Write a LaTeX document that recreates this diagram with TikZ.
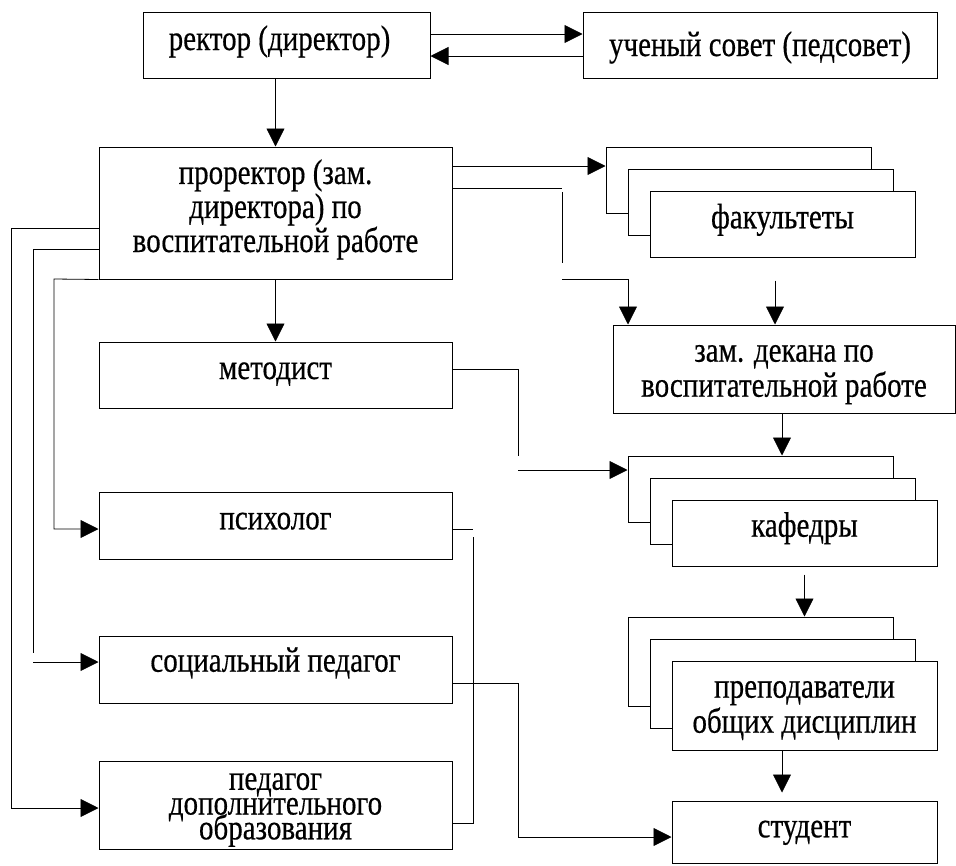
\documentclass[tikz,border=0pt]{standalone}
\usepackage{fontspec}
\usepackage{graphicx}
\setmainfont{Liberation Serif}[FakeBold=0.5]
\usetikzlibrary{arrows.meta,calc}
\newcommand{\vtxt}[2][28.7pt]{\scalebox{1}[1.22]{\vbox{\baselineskip=#1\lineskiplimit=-100pt\lineskip=0pt\halign{\hfil##\hfil\cr #2\crcr}}}}
\begin{document}
\begin{tikzpicture}[x=1pt,y=-1pt,
  box/.style={draw,line width=1pt,fill=white,inner sep=0pt,align=center,
    text depth=0pt,font=\fontsize{29}{28.7}\selectfont},
  conn/.style={line width=0.8pt},
  arr/.style={conn,-{Triangle[length=18pt,width=18pt]}}]
\useasboundingbox (0,0) rectangle (956,865);
% top row
\node[box,text height=10pt,minimum width=287pt,minimum height=66pt] (rektor) at (286.5,45) {\vtxt{ректор (директор)}\hspace*{14pt}};
\node[box,text height=22pt,minimum width=354pt,minimum height=66pt] (sovet) at (760,45) {\vtxt{ученый совет (педсовет)}};
% left column
\node[box,text height=78pt,minimum width=353pt,minimum height=132pt] (prorektor) at (275.5,213) {\vtxt[27.9pt]{проректор (зам.\cr директора) по\cr воспитательной работе}};
\node[box,text height=8pt,minimum width=353pt,minimum height=66pt] (metodist) at (275.5,375) {\vtxt{методист}};
\node[box,text height=7.6pt,minimum width=353pt,minimum height=67pt] (psiholog) at (275.5,525.5) {\vtxt{психолог}};
\node[box,text height=4.4pt,minimum width=353pt,minimum height=67pt] (socped) at (275.5,669.5) {\vtxt{социальный педагог}};
\node[box,text height=68.6pt,minimum width=353pt,minimum height=88pt] (peddop) at (275.5,805) {\vtxt[20.3pt]{педагог\cr дополнительного\cr образования}};
% right column
\node[box,minimum width=265pt,minimum height=66pt] (fak3) at (738.5,180) {};
\node[box,minimum width=265pt,minimum height=66pt] (fak2) at (760.5,202) {};
\node[box,text height=8.6pt,minimum width=265pt,minimum height=66pt] (fak) at (782.5,224) {\vtxt{факультеты}};
\node[box,text height=55.4pt,minimum width=342pt,minimum height=88pt] (zamdek) at (784,369) {\vtxt{зам. декана по\cr воспитательной работе}};
\node[box,minimum width=265pt,minimum height=66pt] (kaf3) at (760.5,489) {};
\node[box,minimum width=265pt,minimum height=66pt] (kaf2) at (782.5,511) {};
\node[box,text height=7.4pt,minimum width=265pt,minimum height=66pt] (kaf) at (804.5,533) {\vtxt{кафедры}};
\node[box,minimum width=265pt,minimum height=89pt] (prep3) at (760.5,661.5) {};
\node[box,minimum width=265pt,minimum height=89pt] (prep2) at (782.5,683.5) {};
\node[box,text height=54.4pt,minimum width=265pt,minimum height=89pt] (prep) at (804.5,705.5) {\vtxt{преподаватели\cr общих дисциплин}};
\node[box,text height=10.6pt,minimum width=265pt,minimum height=62pt] (student) at (804.5,832) {\vtxt{студент}};
% break coordinates
\coordinate (b1) at (562,188);
\coordinate (b2) at (562,192);
\coordinate (b3) at (562,263);
\coordinate (b4) at (562,279);
\coordinate (m1) at (518,456);
\coordinate (m2) at (518,470);
\coordinate (s1) at (33,653);
\coordinate (s2) at (33,662);
\coordinate (p1) at (473,529);
\coordinate (p2) at (473,537);
% connectors
\draw[arr] (rektor.east |- 0,34) -- (sovet.west |- 0,34);
\draw[arr] (sovet.west |- 0,56) -- (rektor.east |- 0,56);
\draw[arr] (rektor.south -| prorektor.north) -- (prorektor.north);
\draw[arr] (prorektor.east |- 0,166) -- (fak3.west |- 0,166);
\draw[conn] (prorektor.east |- b1) -- (b1);
\draw[conn] (b2) -- (b3);
\draw[arr] (b4) -| (zamdek.north -| 628,0);
\draw[arr,shorten <=23pt] (fak.south -| 775,0) -- (zamdek.north -| 775,0);
\draw[arr] (zamdek.south -| 782,0) -- (kaf3.north -| 782,0);
\draw[conn] (metodist.east |- 0,369) -| (m1);
\draw[arr] (m2) -- (kaf3.west |- m2);
\draw[arr,shorten <=8pt] (kaf.south) -- (prep3.north -| kaf.south);
\draw[arr,shorten >=8pt] (prep.south -| 782,0) -- (student.north -| 782,0);
\draw[arr] (prorektor.south) -- (metodist.north);
\draw[arr] (prorektor.west |- 0,228) -- (11,228) -- (11,808) -- (peddop.west |- 0,808);
\draw[conn] (prorektor.west |- 0,249) -| (s1);
\draw[arr] (s2) -- (socped.west |- s2);
\draw[arr] (prorektor.south west) -- (54,279) -- (54,529) -- (psiholog.west |- 0,529);
\draw[conn] (psiholog.east |- p1) -- (p1);
\draw[conn] (p2) |- (peddop.east |- 0,823);
\draw[arr] (socped.east |- 0,683) -- (518,683) |- (student.west |- 0,837);
\end{tikzpicture}
\end{document}
